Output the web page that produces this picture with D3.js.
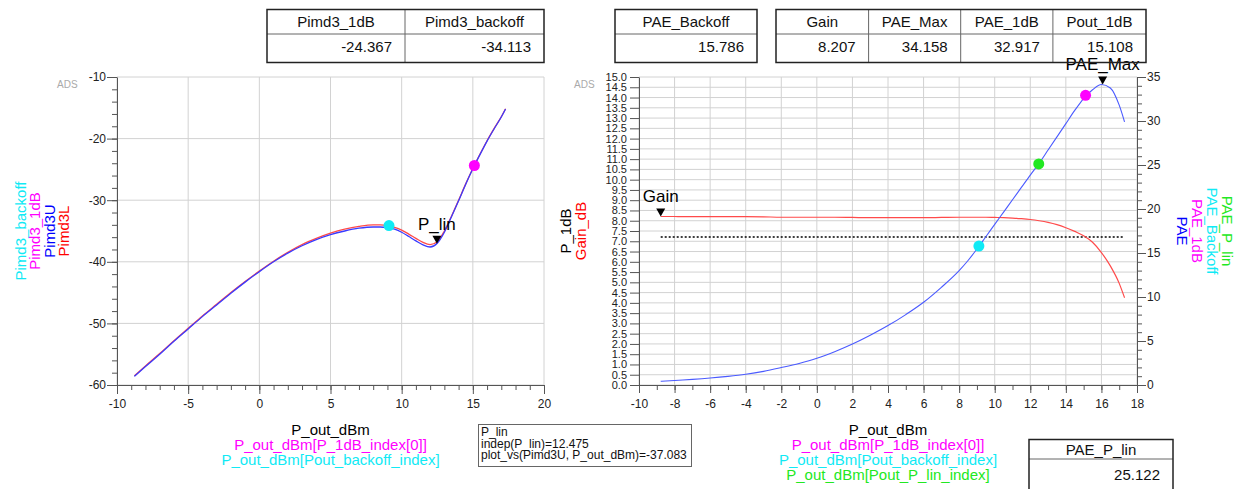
<!DOCTYPE html>
<html><head><meta charset="utf-8">
<script src="https://cdn.jsdelivr.net/npm/d3@7"></script>
<style>body{margin:0;background:#fff}svg{display:block;font-family:"Liberation Sans",Arial,sans-serif}</style>
</head><body><svg id="c" width="1256" height="489"></svg>
<script>
// ---------- data ----------
const poutDbm = [-8.78,-8,-7,-6,-5,-4,-3,-2,-1,0,1,2,3,4,5,6,7,8,8.5,9,9.5,10,10.5,11,11.5,12,12.5,13,13.5,14,14.5,15,15.5,16,16.5,17,17.3];
const pimd3U = [-58.6,-57.0,-55.0,-52.9,-50.9,-48.9,-47.0,-45.1,-43.3,-41.6,-40.0,-38.6,-37.4,-36.4,-35.6,-35.0,-34.55,-34.35,-34.35,-34.45,-34.7,-35.2,-35.9,-36.6,-37.25,-37.6,-37.0,-35.2,-32.7,-30.1,-27.4,-24.9,-22.6,-20.4,-18.4,-16.5,-15.2];
const pimd3L = [-58.5,-56.9,-54.9,-52.8,-50.8,-48.8,-46.9,-45.0,-43.2,-41.5,-39.9,-38.45,-37.2,-36.2,-35.35,-34.7,-34.25,-34.0,-34.0,-34.1,-34.4,-34.85,-35.5,-36.2,-36.85,-37.2,-36.75,-35.0,-32.6,-30.0,-27.35,-24.85,-22.55,-20.35,-18.35,-16.45,-15.15];
const paeVals = [0.42,0.52,0.64,0.79,0.98,1.22,1.55,1.98,2.45,3.03,3.78,4.65,5.65,6.75,8.0,9.4,11.1,13.0,14.15,15.45,16.85,18.25,19.65,21.05,22.45,23.85,25.2,26.7,28.2,29.7,31.2,32.55,33.55,34.15,33.75,31.8,29.9];
const gainDb = [8.207,8.205,8.2,8.2,8.2,8.2,8.19,8.17,8.17,8.17,8.17,8.16,8.15,8.15,8.15,8.15,8.16,8.17,8.17,8.17,8.17,8.16,8.15,8.13,8.1,8.06,8.0,7.92,7.81,7.66,7.48,7.27,6.95,6.45,5.8,4.95,4.25];
const p1dBLevel = 7.207;

const leftMarkerX = [9.11, 15.108];
const leftMarkerY = [-34.113, -24.367];
const rightMarkerX = [9.11, 12.475, 15.108];
const rightMarkerY = [15.786, 25.122, 32.917];
const pLinPoint = [12.475, -37.083];
const gainPoint = [-8.78, 8.207];
const paeMaxPoint = [16.07, 34.158];

const leftXTicks = [-10,-5,0,5,10,15,20];
const leftYTicks = [-60,-50,-40,-30,-20,-10];
const rightXTicks = [-10,-8,-6,-4,-2,0,2,4,6,8,10,12,14,16,18];
const rightYTicks = [0,0.5,1,1.5,2,2.5,3,3.5,4,4.5,5,5.5,6,6.5,7,7.5,8,8.5,9,9.5,10,10.5,11,11.5,12,12.5,13,13.5,14,14.5,15];
const rightY2Ticks = [0,5,10,15,20,25,30,35];

const tblLeftHeaders = ["Pimd3_1dB","Pimd3_backoff"];
const tblLeftValues = ["-24.367","-34.113"];
const tblBackoffHeaders = ["PAE_Backoff"];
const tblBackoffValues = ["15.786"];
const tblGainHeaders = ["Gain","PAE_Max","PAE_1dB","Pout_1dB"];
const tblGainValues = ["8.207","34.158","32.917","15.108"];
const tblPlinHeaders = ["PAE_P_lin"];
const tblPlinValues = ["25.122"];

const leftLegend = ["Pimd3_backoff","Pimd3_1dB","Pimd3U","Pimd3L"];
const rightLegend = ["PAE_P_lin","PAE_Backoff","PAE_1dB","PAE"];
const leftYLabels = ["P_1dB","Gain_dB"];
const leftXLabels = ["P_out_dBm","P_out_dBm[P_1dB_index[0]]","P_out_dBm[Pout_backoff_index]"];
const rightXLabels = ["P_out_dBm","P_out_dBm[P_1dB_index[0]]","P_out_dBm[Pout_backoff_index]","P_out_dBm[Pout_P_lin_index]"];
const pLinInfo = ["P_lin","indep(P_lin)=12.475","plot_vs(Pimd3U, P_out_dBm)=-37.083"];

// ---------- style ----------
const CYAN="#10eaf5", MAG="#ff00ff", BLUE="#0000ff", RED="#ff0000", GREEN="#22e822";
const GRID="#d2d2d2", AX="#555";
const FONT='"Liberation Sans", Arial, sans-serif';
const svg = d3.select("#c");

function styleAxis(g){
  g.attr("font-family",FONT).attr("font-size",12);
  g.select(".domain").attr("stroke",AX);
  g.selectAll(".tick line").attr("stroke",AX);
  g.selectAll(".tick text").attr("fill","#222");
}
function minorAxis(g){ g.select(".domain").remove(); g.selectAll(".tick line").attr("stroke",AX); }

// ---------- left chart ----------
const xL = d3.scaleLinear().domain([-10,20]).range([117,544]);
const yL = d3.scaleLinear().domain([-60,-10]).range([385,77]);
const gl = svg.append("g");
gl.append("g").selectAll("line").data(leftXTicks).join("line")
  .attr("x1",d=>xL(d)).attr("x2",d=>xL(d)).attr("y1",yL(-60)).attr("y2",yL(-10)).attr("stroke",GRID);
gl.append("g").selectAll("line").data(leftYTicks).join("line")
  .attr("y1",d=>yL(d)).attr("y2",d=>yL(d)).attr("x1",xL(-10)).attr("x2",xL(20)).attr("stroke",GRID);
gl.append("g").attr("transform",`translate(0,${yL(-60)})`)
  .call(d3.axisBottom(xL).tickValues(d3.range(-10,21,1)).tickSize(5).tickFormat("")).call(minorAxis);
gl.append("g").attr("transform",`translate(${xL(-10)},0)`)
  .call(d3.axisLeft(yL).tickValues(d3.range(-60,-9,2)).tickSize(5).tickFormat("")).call(minorAxis);
gl.append("g").attr("transform",`translate(0,${yL(-60)})`)
  .call(d3.axisBottom(xL).tickValues(leftXTicks).tickSize(9).tickSizeOuter(0).tickPadding(5).tickFormat(d=>String(d))).call(styleAxis);
gl.append("g").attr("transform",`translate(${xL(-10)},0)`)
  .call(d3.axisLeft(yL).tickValues(leftYTicks).tickSize(10).tickSizeOuter(0).tickPadding(1).tickFormat(d=>String(d))).call(styleAxis);

const lineL = (vals)=> d3.line().x((d,i)=>xL(poutDbm[i])).y(d=>yL(d)).curve(d3.curveMonotoneX)(vals);
gl.append("path").attr("d",lineL(pimd3L)).attr("fill","none").attr("stroke","#ff4a4a").attr("stroke-width",1.3);
gl.append("path").attr("d",lineL(pimd3U)).attr("fill","none").attr("stroke","#3a3aff").attr("stroke-width",1.3);
gl.selectAll("circle.m").data(leftMarkerX).join("circle").attr("class","m")
  .attr("cx",d=>xL(d)).attr("cy",(d,i)=>yL(leftMarkerY[i])).attr("r",5.5)
  .attr("fill",(d,i)=>[CYAN,MAG][i]);
function triMarker(g,x,y,label){
  g.append("path").attr("d",`M${x-4.5},${y-8}L${x+4.5},${y-8}L${x},${y}Z`).attr("fill","#000");
  g.append("text").attr("x",x).attr("y",y-14).attr("text-anchor","middle")
    .attr("font-size",17).attr("fill","#000").text(label);
}
triMarker(gl, xL(pLinPoint[0]), yL(pLinPoint[1]), "P_lin");

svg.append("text").attr("x",57).attr("y",88).attr("font-size",10).attr("fill","#aaa").text("ADS");

// left legend (rotated)
const llx = [25.5,40,54.5,69], llc=[CYAN,MAG,BLUE,RED];
leftLegend.forEach((t,i)=>{
  svg.append("text").attr("transform",`translate(${llx[i]},231) rotate(-90)`)
    .attr("text-anchor","middle").attr("font-size",15).attr("fill",llc[i]).text(t);
});
const lxc=["#000",MAG,CYAN];
leftXLabels.forEach((t,i)=>{
  svg.append("text").attr("x",330.5).attr("y",435+15*i).attr("text-anchor","middle")
    .attr("font-size",15).attr("fill",lxc[i]).text(t);
});
// P_lin info box
svg.append("rect").attr("x",478.5).attr("y",424.5).attr("width",213).attr("height",42)
  .attr("fill","none").attr("stroke","#666");
pLinInfo.forEach((t,i)=>{
  svg.append("text").attr("x",481).attr("y",436+11.5*i).attr("font-size",12).attr("fill","#111").text(t);
});

// ---------- right chart ----------
const xR = d3.scaleLinear().domain([-10,18]).range([639,1137]);
const yR = d3.scaleLinear().domain([0,15]).range([385,77]);
const yR2 = d3.scaleLinear().domain([0,35]).range([385,77]);
const gr = svg.append("g");
gr.append("g").selectAll("line").data(rightXTicks).join("line")
  .attr("x1",d=>xR(d)).attr("x2",d=>xR(d)).attr("y1",yR(0)).attr("y2",yR(15)).attr("stroke",GRID);
gr.append("g").selectAll("line").data(rightYTicks).join("line")
  .attr("y1",d=>yR(d)).attr("y2",d=>yR(d)).attr("x1",xR(-10)).attr("x2",xR(18)).attr("stroke",GRID);
gr.append("g").attr("transform",`translate(0,${yR(0)})`)
  .call(d3.axisBottom(xR).tickValues(d3.range(-10,19,1)).tickSize(5).tickFormat("")).call(minorAxis);
gr.append("g").attr("transform",`translate(${xR(18)},0)`)
  .call(d3.axisRight(yR2).tickValues(d3.range(0,36,1)).tickSize(5).tickFormat("")).call(minorAxis);
gr.append("g").attr("transform",`translate(0,${yR(0)})`)
  .call(d3.axisBottom(xR).tickValues(rightXTicks).tickSize(8).tickSizeOuter(0).tickPadding(6).tickFormat(d=>String(d))).call(styleAxis);
gr.append("g").attr("transform",`translate(${xR(-10)},0)`)
  .call(d3.axisLeft(yR).tickValues(rightYTicks).tickSize(9).tickSizeOuter(0).tickPadding(3).tickFormat(d3.format(".1f")))
  .call(styleAxis).attr("font-size",11);
gr.append("g").attr("transform",`translate(${xR(18)},0)`)
  .call(d3.axisRight(yR2).tickValues(rightY2Ticks).tickSize(9).tickSizeOuter(0).tickPadding(1).tickFormat(d=>String(d))).call(styleAxis);

// P_1dB dotted line
gr.append("line").attr("x1",xR(poutDbm[0])).attr("x2",xR(poutDbm[poutDbm.length-1]))
  .attr("y1",yR(p1dBLevel)).attr("y2",yR(p1dBLevel)).attr("stroke","#000").attr("stroke-width",1.6).attr("stroke-dasharray","2,2");
gr.append("path").attr("d",d3.line().x((d,i)=>xR(poutDbm[i])).y(d=>yR(d)).curve(d3.curveMonotoneX)(gainDb))
  .attr("fill","none").attr("stroke","#ff4a4a").attr("stroke-width",1.2);
gr.append("path").attr("d",d3.line().x((d,i)=>xR(poutDbm[i])).y(d=>yR2(d)).curve(d3.curveMonotoneX)(paeVals))
  .attr("fill","none").attr("stroke","#4a5aff").attr("stroke-width",1.1);
gr.selectAll("circle.m").data(rightMarkerX).join("circle").attr("class","m")
  .attr("cx",d=>xR(d)).attr("cy",(d,i)=>yR2(rightMarkerY[i])).attr("r",5.5)
  .attr("fill",(d,i)=>[CYAN,GREEN,MAG][i]);
triMarker(gr, xR(gainPoint[0]), yR(gainPoint[1]), "Gain");
triMarker(gr, xR(paeMaxPoint[0]), yR2(paeMaxPoint[1]), "PAE_Max");

svg.append("text").attr("x",574).attr("y",88).attr("font-size",10).attr("fill","#aaa").text("ADS");

const rylx=[571,586], rylc=["#000",RED];
leftYLabels.forEach((t,i)=>{
  svg.append("text").attr("transform",`translate(${rylx[i]},231) rotate(-90)`)
    .attr("text-anchor","middle").attr("font-size",15).attr("fill",rylc[i]).text(t);
});
const rlx=[1222,1207,1192,1177], rlc=[GREEN,CYAN,MAG,BLUE];
rightLegend.forEach((t,i)=>{
  svg.append("text").attr("transform",`translate(${rlx[i]},231) rotate(90)`)
    .attr("text-anchor","middle").attr("font-size",15).attr("fill",rlc[i]).text(t);
});
const rxc=["#000",MAG,CYAN,GREEN];
rightXLabels.forEach((t,i)=>{
  svg.append("text").attr("x",888).attr("y",435+15*i).attr("text-anchor","middle")
    .attr("font-size",15).attr("fill",rxc[i]).text(t);
});

// ---------- tables ----------
function table(cols, y0, yMid, y1, headers, values, hBase, vBase){
  const g = svg.append("g");
  for(let i=1;i<cols.length-1;i++){
    g.append("line").attr("x1",cols[i]).attr("x2",cols[i]).attr("y1",y0).attr("y2",y1).attr("stroke","#666");
  }
  g.append("line").attr("x1",cols[0]).attr("x2",cols[cols.length-1]).attr("y1",yMid).attr("y2",yMid).attr("stroke","#666");
  g.append("rect").attr("x",cols[0]).attr("y",y0).attr("width",cols[cols.length-1]-cols[0]).attr("height",y1-y0)
    .attr("fill","none").attr("stroke","#222").attr("stroke-width",1.5);
  headers.forEach((h,i)=>{
    g.append("text").attr("x",(cols[i]+cols[i+1])/2).attr("y",hBase).attr("text-anchor","middle")
      .attr("font-size",15).attr("fill","#111").text(h);
    g.append("text").attr("x",cols[i+1]-13).attr("y",vBase).attr("text-anchor","end")
      .attr("font-size",15).attr("fill","#111").text(values[i]);
  });
}
table([267,405,544], 9.5, 34, 62.5, tblLeftHeaders, tblLeftValues, 26.5, 52);
table([615,757], 9.5, 34, 62.5, tblBackoffHeaders, tblBackoffValues, 26.5, 52);
table([776,868.6,960.7,1052.9,1146], 9.5, 34, 62.5, tblGainHeaders, tblGainValues, 26.5, 52);
table([1029,1173], 439.5, 459, 496, tblPlinHeaders, tblPlinValues, 454.5, 480);
</script></body></html>
